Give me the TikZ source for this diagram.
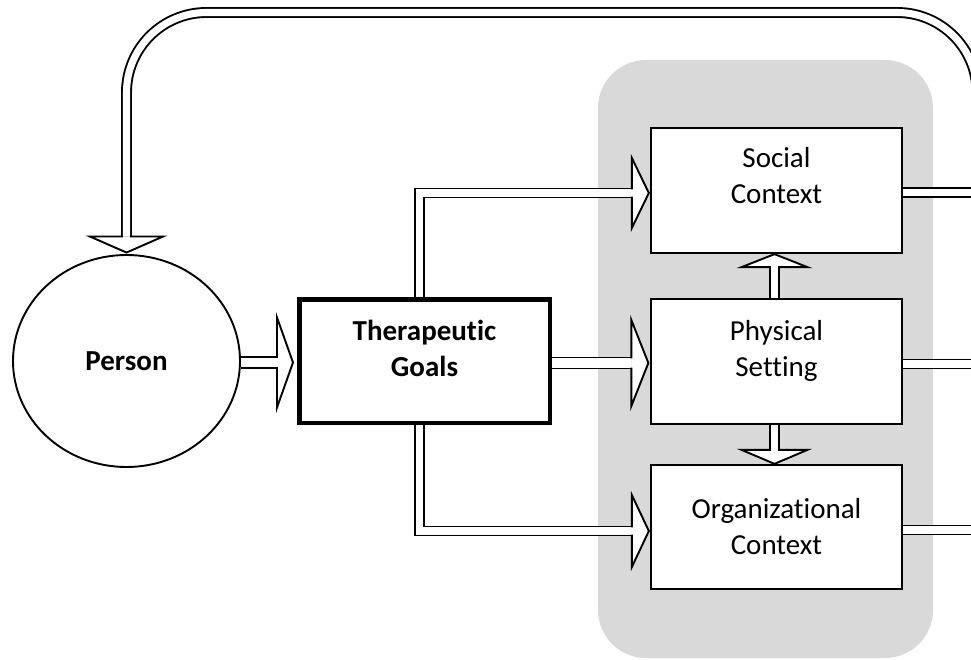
\documentclass[tikz,border=0pt]{standalone}
\usepackage{fontspec}
\setmainfont{Carlito}[Ligatures={NoCommon,NoRare}]
\usetikzlibrary{shapes.geometric,calc}
\definecolor{panelgray}{HTML}{D9D9D9}
\pgfdeclarelayer{panel}
\pgfdeclarelayer{links}
\pgfsetlayers{panel,links,main}
% fixed line height/depth so that two-line labels sit at a known baseline
\newcommand\lnstrut{\rule[-8pt]{0pt}{30pt}}
\tikzset{
  boxnode/.style={draw, fill=white, rectangle, inner sep=0pt,
    minimum width=251pt, minimum height=125pt},
  boxtext/.style={inner sep=0pt, align=center,
    font=\fontsize{29pt}{36pt}\selectfont},
  shaft/.style={draw, line width=1.9pt, double=white, double distance=#1},
  shaft/.default=7.1pt,
  pics/bhead/.style n args={3}{code={%
    \filldraw[fill=white, line width=1.9pt, line join=miter, line cap=rect]
      (-#2,#3) -- (-#2,#1) -- (0,0) -- (-#2,-#1) -- (-#2,-#3);}},
}
\begin{document}
\begin{tikzpicture}[x=1pt,y=-1pt]
\useasboundingbox (0,0) rectangle (971,660);
\clip (0,0) rectangle (971,660);

% grey panel behind the three setting boxes
\begin{pgfonlayer}{panel}
  \node[fill=panelgray, rounded corners=48pt, inner sep=0pt,
    minimum width=335pt, minimum height=598pt] (panel) at (765.5,359) {};
\end{pgfonlayer}

% nodes
\node[ellipse, draw, fill=white, line width=1.9pt, inner sep=0pt,
  minimum width=227pt, minimum height=212pt,
  font=\fontsize{29pt}{36pt}\selectfont\bfseries] (person) at (126.5,361) {Person};

\node[boxnode, line width=4.5pt, minimum width=250.5pt, minimum height=123.5pt]
  (goals) at (424.5,361) {};
\node[boxtext, font=\fontsize{29pt}{36pt}\selectfont\bfseries]
  (goals-text) at (424.5,351.7) {\lnstrut Therapeutic\\\lnstrut Goals};

\node[boxnode, line width=1.3pt] (social) at (776.5,190.5) {};
\node[boxtext] (social-text) at (776.5,179) {\lnstrut Social\\\lnstrut Context};

\node[boxnode, line width=2.3pt] (physical) at (776.5,361.5) {};
\node[boxtext] (physical-text) at (776.5,351) {\lnstrut Physical\\\lnstrut Setting};

\node[boxnode, line width=1.3pt, minimum height=124pt] (org) at (776.5,527) {};
\node[boxtext] (org-text) at (776.5,529.3) {\lnstrut Organizational\\\lnstrut Context};

% tips and bases of the block arrows
\coordinate (pg-tip) at ([xshift=-4pt, yshift=-1.5pt]goals.west);
\coordinate (pg-base) at ([xshift=-16pt]pg-tip);
\coordinate (gp-tip) at ([xshift=-1.5pt, yshift=-1.5pt]physical.west);
\coordinate (gp-base) at ([xshift=-17pt]gp-tip);
\coordinate (gs-tip) at ([xshift=-1.5pt, yshift=-2.5pt]social.west);
\coordinate (gs-base) at ([xshift=-17pt]gs-tip);
\coordinate (go-tip) at ([xshift=-1.5pt, yshift=-4pt]org.west);
\coordinate (go-base) at ([xshift=-17pt]go-tip);
\coordinate (ps-tip) at ([xshift=-2pt, yshift=-0.5pt]social.south);
\coordinate (ps-base) at ([yshift=-13pt]ps-tip);
\coordinate (po-tip) at ([xshift=-2pt, yshift=0.5pt]org.north);
\coordinate (po-base) at ([yshift=14pt]po-tip);
\coordinate (lp-tip) at ([yshift=1.5pt]person.north);
\coordinate (lp-base) at ([yshift=16pt]lp-tip);

% outputs of the three boxes and the feedback rail
\coordinate (soc-out) at ([yshift=-2pt]social.east);
\coordinate (phy-out) at ([yshift=-2.5pt]physical.east);
\coordinate (org-out) at ([yshift=-3pt]org.east);
\coordinate (rail) at (977,300);
\coordinate (loop-corner) at (977,12.5);

\begin{pgfonlayer}{links}
  % Person -> Therapeutic Goals
  \draw[shaft=9.1pt] (pg-base -| person.east) -- (pg-base);
  \pic at (pg-tip) {bhead={45}{16}{5.5}};
  % Therapeutic Goals -> Physical Setting
  \draw[shaft=9.1pt] (gp-base -| goals.east) -- (gp-base);
  \pic at (gp-tip) {bhead={43}{17}{5.5}};
  % Therapeutic Goals -> Social Context
  \draw[shaft] ([xshift=-5pt]goals.north) |- (gs-base);
  \pic at (gs-tip) {bhead={35}{17}{4.5}};
  % Therapeutic Goals -> Organizational Context
  \draw[shaft] ([xshift=-5pt]goals.south) |- (go-base);
  \pic at (go-tip) {bhead={36}{17}{4.5}};
  % Physical Setting -> Social Context
  \draw[shaft] (ps-base |- physical.north) -- (ps-base);
  \pic[rotate=90] at (ps-tip) {bhead={33}{13}{4.5}};
  % Physical Setting -> Organizational Context
  \draw[shaft] (po-base |- physical.south) -- (po-base);
  \pic[rotate=-90] at (po-tip) {bhead={33}{14}{4.5}};
  % outputs to the feedback rail
  \draw[shaft] (soc-out) -- (soc-out -| rail);
  \draw[shaft] (phy-out) -- (phy-out -| rail);
  \draw[shaft] (org-out) -- (org-out -| rail);
  % feedback loop back to Person
  \draw[shaft, rounded corners=80pt] (org-out -| rail) -- (loop-corner) -| (lp-base);
  \pic[rotate=-90] at (lp-tip) {bhead={36.5}{16}{4.5}};
\end{pgfonlayer}
\end{tikzpicture}
\end{document}
